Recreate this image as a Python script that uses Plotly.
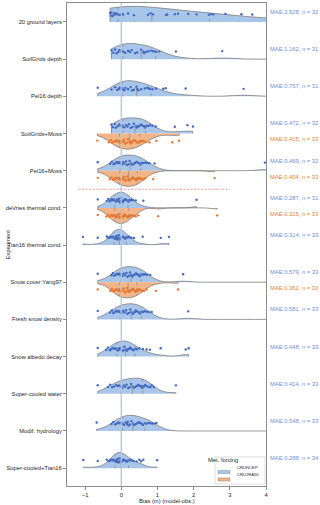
import numpy as np
import plotly.graph_objects as go

# experiments, top to bottom
experiments = [
    "20 ground layers", "SoilGrids depth", "Pel16 depth", "SoilGrids+Moss",
    "Pel16+Moss", "deVries thermal cond.", "Tian16 thermal cond.",
    "Snow cover:Yang97", "Fresh snow density", "Snow albedo decay",
    "Super-cooled water", "Modif. hydrology", "Super-cooled+Tian16",
]
forcings = ["CRUNCEP", "CRUJRA55"]

# bias (m), CRUNCEP forcing (values > 4 lie outside the visible axis)
ground20_cn = [-0.31, -0.29, -0.27, -0.24, -0.21, -0.18, -0.15, -0.11, -0.08, -0.03, 0.01,
               0.05, 0.19, 0.35, 0.74, 0.81, 0.88, 1.24, 1.27, 1.48, 1.57, 1.85, 2.08,
               2.42, 2.49, 2.55, 2.88, 3.32, 3.62, 4.6, 5.5, 7.4]
soilgrids_cn = [-0.27, -0.22, -0.17, -0.13, -0.08, -0.05, 0.0, 0.02, 0.07, 0.12, 0.19, 0.24,
                0.29, 0.38, 0.44, 0.55, 0.61, 0.63, 0.68, 0.74, 0.81, 0.87, 0.93, 0.97,
                1.05, 1.51, 2.79, 4.9, 5.8, 7.2, 9.0]
pel16depth_cn = [-0.65, -0.27, -0.17, -0.11, -0.07, -0.04, 0.0, 0.02, 0.04, 0.08, 0.12, 0.19,
                 0.26, 0.30, 0.35, 0.42, 0.44, 0.47, 0.55, 0.65, 0.72, 0.76, 0.79, 0.86,
                 0.96, 1.16, 1.23, 1.78, 3.38, 4.8, 6.5]
sgmoss_cn = [-0.27, -0.23, -0.18, -0.15, -0.10, -0.06, -0.02, 0.01, 0.05, 0.08, 0.13, 0.17,
             0.21, 0.26, 0.31, 0.35, 0.41, 0.43, 0.47, 0.50, 0.55, 0.58, 0.63, 0.66, 0.70,
             0.74, 0.79, 0.86, 0.95, 1.48, 1.83, 1.98]
pelmoss_cn = [-0.65, -0.31, -0.26, -0.21, -0.17, -0.12, -0.09, -0.05, -0.02, 0.02, 0.05,
              0.09, 0.13, 0.16, 0.20, 0.23, 0.27, 0.31, 0.35, 0.38, 0.42, 0.46, 0.50, 0.53,
              0.57, 0.61, 0.66, 0.71, 0.78, 0.92, 3.97, 5.2]
devries_cn = [-0.65, -0.40, -0.36, -0.32, -0.29, -0.26, -0.23, -0.20, -0.17, -0.14, -0.11,
              -0.08, -0.06, -0.04, -0.02, 0.0, 0.02, 0.04, 0.06, 0.08, 0.11, 0.14, 0.17,
              0.20, 0.23, 0.26, 0.29, 0.33, 0.40, 0.61, 2.08]
tian16_cn = [-1.06, -0.65, -0.40, -0.36, -0.32, -0.29, -0.26, -0.23, -0.20, -0.18, -0.15,
             -0.13, -0.12, -0.11, -0.09, -0.07, -0.05, -0.03, -0.01, 0.01, 0.03, 0.05, 0.08,
             0.11, 0.14, 0.17, 0.20, 0.24, 0.28, 0.35, 0.59, 1.09, 1.32]
snowcov_cn = [-0.65, -0.27, -0.23, -0.19, -0.15, -0.11, -0.07, -0.04, -0.01, 0.03, 0.06,
              0.10, 0.14, 0.17, 0.21, 0.24, 0.27, 0.30, 0.34, 0.37, 0.41, 0.44, 0.48, 0.51,
              0.55, 0.59, 0.63, 0.67, 0.72, 0.80, 1.71, 5.0, 7.5]
freshsnow_cn = [-0.65, -0.31, -0.26, -0.22, -0.18, -0.14, -0.10, -0.06, -0.03, 0.01, 0.05,
                0.09, 0.13, 0.17, 0.21, 0.25, 0.28, 0.32, 0.36, 0.38, 0.40, 0.44, 0.48, 0.52,
                0.56, 0.60, 0.65, 0.70, 0.76, 0.84, 1.85, 4.8, 7.0]
albedo_cn = [-0.65, -0.42, -0.37, -0.32, -0.28, -0.24, -0.20, -0.16, -0.12, -0.09, -0.06,
             -0.03, 0.0, 0.03, 0.06, 0.09, 0.12, 0.15, 0.18, 0.21, 0.24, 0.27, 0.30, 0.34,
             0.38, 0.43, 0.50, 0.60, 0.70, 0.79, 1.09, 1.78, 1.86]
scwater_cn = [-0.65, -0.37, -0.31, -0.25, -0.19, -0.14, -0.09, -0.05, -0.01, 0.03, 0.07,
              0.11, 0.15, 0.19, 0.23, 0.27, 0.31, 0.35, 0.39, 0.43, 0.47, 0.51, 0.55, 0.58,
              0.59, 0.62, 0.66, 0.70, 0.75, 0.80, 0.84, 0.90, 1.51]
hydro_cn = [-0.68, -0.27, -0.22, -0.17, -0.12, -0.08, -0.04, 0.0, 0.04, 0.08, 0.12, 0.16,
            0.18, 0.20, 0.24, 0.28, 0.32, 0.36, 0.40, 0.44, 0.48, 0.52, 0.56, 0.60, 0.65,
            0.70, 0.75, 0.80, 0.86, 0.92, 0.97, 5.0, 8.0]
sctian_cn = [-1.05, -0.65, -0.40, -0.35, -0.31, -0.27, -0.24, -0.21, -0.18, -0.15, -0.13,
             -0.12, -0.10, -0.08, -0.06, -0.04, -0.02, 0.0, 0.02, 0.04, 0.06, 0.09, 0.12,
             0.15, 0.18, 0.21, 0.25, 0.29, 0.34, 0.42, 0.50, 0.55, 0.61, 0.99]

# bias (m), CRUJRA55 forcing
sgmoss_cj = [-0.66, -0.34, -0.29, -0.25, -0.21, -0.16, -0.12, -0.09, -0.05, -0.02, 0.01,
             0.05, 0.08, 0.11, 0.15, 0.19, 0.23, 0.26, 0.28, 0.31, 0.35, 0.39, 0.43, 0.47,
             0.51, 0.54, 0.58, 0.63, 0.69, 0.78, 0.97, 1.41, 1.60]
pelmoss_cj = [-0.65, -0.32, -0.27, -0.23, -0.19, -0.15, -0.11, -0.07, -0.04, -0.01, 0.02,
              0.05, 0.08, 0.11, 0.14, 0.17, 0.20, 0.23, 0.26, 0.29, 0.32, 0.35, 0.38, 0.41,
              0.44, 0.47, 0.50, 0.54, 0.58, 0.62, 0.66, 0.88, 2.58]
devries_cj = [-0.65, -0.41, -0.37, -0.33, -0.30, -0.27, -0.24, -0.21, -0.18, -0.15, -0.12,
              -0.10, -0.07, -0.05, -0.03, -0.01, 0.01, 0.03, 0.05, 0.07, 0.09, 0.12, 0.15,
              0.18, 0.21, 0.24, 0.28, 0.33, 0.38, 0.40, 0.47, 1.02, 2.65]
snowcov_cj = [-0.65, -0.30, -0.26, -0.22, -0.18, -0.14, -0.11, -0.08, -0.05, -0.02, 0.01,
              0.04, 0.07, 0.10, 0.13, 0.16, 0.19, 0.22, 0.25, 0.28, 0.31, 0.34, 0.37, 0.40,
              0.43, 0.46, 0.50, 0.54, 0.58, 0.63, 0.70, 0.96, 1.57]

cruncep = [ground20_cn, soilgrids_cn, pel16depth_cn, sgmoss_cn, pelmoss_cn, devries_cn,
           tian16_cn, snowcov_cn, freshsnow_cn, albedo_cn, scwater_cn, hydro_cn, sctian_cn]
crujra = [None, None, None, sgmoss_cj, pelmoss_cj, devries_cj,
          None, snowcov_cj, None, None, None, None, None]

mae_cn = [2.528, 1.162, 0.757, 0.472, 0.469, 0.287, 0.314, 0.579, 0.581, 0.448, 0.414, 0.548, 0.288]
n_cn = [32, 31, 31, 32, 32, 31, 33, 33, 33, 33, 33, 33, 34]
mae_cj = [None, None, None, 0.415, 0.404, 0.315, None, 0.362, None, None, None, None, None]
n_cj = [None, None, None, 33, 33, 33, None, 33, None, None, None, None, None]

FILL_CN, DOT_CN, TXT_CN = "#a7c6ea", "#4069c4", "#6b8fe0"
FILL_CJ, DOT_CJ, TXT_CJ = "#f3b487", "#e8772e", "#e8822f"
EDGE = "#7d7d7d"
HALF = 0.42  # half violin height in category units
FS = 5.8

n_exp = len(experiments)
pos = [n_exp - 1 - i for i in range(n_exp)]


def bandwidth(v):
    v = np.asarray(v, float)
    q1, q3 = np.percentile(v, [25, 75])
    a = min(np.std(v, ddof=1), (q3 - q1) / 1.349)
    return max(1.059 * a * len(v) ** -0.2, (v.max() - v.min()) / 100)


def kde(v, t, bw):
    v = np.asarray(v, float)
    t = np.atleast_1d(t)
    return np.exp(-0.5 * ((t[:, None] - v[None, :]) / bw) ** 2).sum(axis=1)


fig = go.Figure()


def add_half(vals, y, side, fill, dot):
    bw = bandwidth(vals)
    sign = 1 if side == "positive" else -1
    fig.add_trace(go.Violin(
        x=vals, y0=y, orientation="h", side=side, showlegend=False,
        width=2 * HALF, scalemode="width", spanmode="hard", bandwidth=bw,
        fillcolor=fill, opacity=1, line=dict(color=EDGE, width=0.8),
        points="all", pointpos=0.5 * sign, jitter=0.15,
        marker=dict(color=dot, size=2.4, line=dict(width=0)),
        hoveron="violins", box_visible=False, meanline_visible=False,
    ))
    # quartile lines (inner="quartile")
    grid = np.linspace(min(vals), max(vals), 300)
    peak = kde(vals, grid, bw).max()
    qs = np.percentile(vals, [25, 50, 75])
    for k, q in enumerate(qs):
        h = HALF * kde(vals, q, bw)[0] / peak
        fig.add_trace(go.Scatter(
            x=[q, q], y=[y, y + sign * h], mode="lines", showlegend=False,
            hoverinfo="skip", line=dict(color="#8a8a8a", width=0.7,
                                        dash="dash" if k == 1 else "dot"),
        ))


for i in range(n_exp):
    add_half(cruncep[i], pos[i], "positive", FILL_CN, DOT_CN)
    if crujra[i] is not None:
        add_half(crujra[i], pos[i], "negative", FILL_CJ, DOT_CJ)

fig.add_vline(x=0, line=dict(color="#b3c6e6", width=1.3), layer="above")
# separator between the two groups of experiments
fig.add_shape(type="line", x0=-1.18, x1=3.0, y0=pos[4] - 0.5, y1=pos[4] - 0.5,
              line=dict(color="#ec7f7f", width=0.8, dash="2px,1.5px"))

for i in range(n_exp):
    fig.add_annotation(x=1, xref="paper", y=pos[i] + 0.27, yref="y", xanchor="left",
                       xshift=2, showarrow=False, text=f"MAE:{mae_cn[i]:.3f}, n = {n_cn[i]}",
                       font=dict(color=TXT_CN, size=FS))
    if mae_cj[i] is not None:
        fig.add_annotation(x=1, xref="paper", y=pos[i] - 0.16, yref="y", xanchor="left",
                           xshift=2, showarrow=False,
                           text=f"MAE:{mae_cj[i]:.3f}, n = {n_cj[i]}",
                           font=dict(color=TXT_CJ, size=FS))

fig.add_annotation(x=0, xref="paper", y=0.5, yref="paper", xanchor="center", xshift=-60,
                   textangle=-90, showarrow=False, text="Experiment", font=dict(size=FS))
fig.add_annotation(x=0.5, xref="paper", y=0, yref="paper", yshift=-15, yanchor="middle",
                   showarrow=False, text="Bias (m) (model-obs.)", font=dict(size=FS))

# legend box (lower right)
fig.add_shape(type="rect", xref="paper", yref="paper", x0=0.744, x1=0.995, y0=0.004, y1=0.060,
              line=dict(color="#d0d0d0", width=0.7), fillcolor="white", layer="above")
fig.add_annotation(x=0.87, xref="paper", y=0.0435, yref="paper", showarrow=False,
                   text="Met. forcing", font=dict(size=5.8, color="#262626"))
for k, (name, fill) in enumerate(zip(forcings, [FILL_CN, FILL_CJ])):
    yk = 0.029 - k * 0.0155
    fig.add_shape(type="rect", xref="paper", yref="paper", x0=0.759, x1=0.819,
                  y0=yk - 0.0033, y1=yk + 0.0033, fillcolor=fill,
                  line=dict(color=EDGE, width=0.4), layer="above")
    fig.add_annotation(x=0.842, xref="paper", y=yk, yref="paper", xanchor="left",
                       showarrow=False, text=name, font=dict(size=4.2, color="#262626"))

axis_style = dict(showline=True, mirror=True, linecolor="#8c8c8c", linewidth=1,
                  ticks="outside", ticklen=3, tickcolor="#8c8c8c", showgrid=False,
                  zeroline=False, automargin=False)
fig.update_xaxes(range=[-1.5, 4], tickvals=[-1, 0, 1, 2, 3, 4],
                 ticktext=["−1", "0", "1", "2", "3", "4"], **axis_style)
fig.update_yaxes(range=[-0.48, n_exp - 1 + 0.51], tickvals=pos, ticktext=experiments,
                 **axis_style)

fig.update_layout(
    width=320, height=505, margin=dict(l=67, r=54, t=3, b=19),
    plot_bgcolor="white", paper_bgcolor="white", violinmode="overlay",
    showlegend=False,
    font=dict(family="Liberation Sans, Arial, sans-serif", size=FS, color="#262626"),
)

fig.write_html("out.html", config={"displayModeBar": False},
               post_script="document.body.style.margin='0';")
